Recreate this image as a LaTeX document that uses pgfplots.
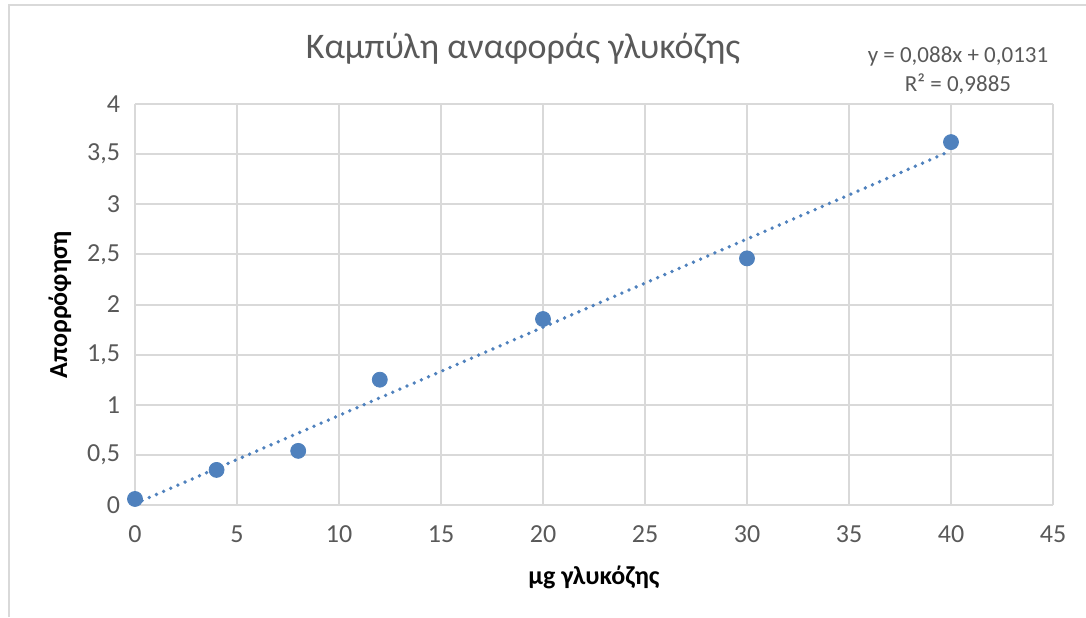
\documentclass[border=0pt]{standalone}
\usepackage{fontspec}
\setmainfont{Carlito}
\usepackage{pgfplots}
\pgfplotsset{compat=1.18}

\definecolor{xlblue}{RGB}{79,129,189}
\definecolor{xlgrid}{RGB}{217,217,217}
\definecolor{xltext}{RGB}{89,89,89}

\begin{document}
\begin{tikzpicture}
\path[use as bounding box] (-67.5pt,-56pt) rectangle (475.5pt,252.5pt);
% chart area frame (only left and top edges are visible in the reference)
\draw[xlgrid, line width=0.8pt] (-63pt,-56pt) -- (-63pt,250pt) -- (475.5pt,250pt);

\begin{axis}[
  at={(0,0)}, anchor=south west,
  scale only axis,
  width=459pt, height=200.5pt,
  xmin=0, xmax=45, ymin=0, ymax=4,
  xtick={0,5,...,45},
  ytick={0,0.5,...,4},
  grid=major,
  grid style={xlgrid, line width=1pt},
  axis line style={xlgrid, line width=1pt},
  axis x line*=bottom, axis y line*=left,
  major tick length=0pt,
  tick label style={font=\fontsize{13}{15}\selectfont, text=xltext},
  xticklabel style={yshift=-7pt},
  yticklabel style={xshift=-4pt},
  /pgf/number format/use comma,
  /pgf/number format/assume math mode=true,
  clip=false,
]
% trendline y = 0,088x + 0,0131
\addplot[xlblue, line width=1.9pt, line cap=round, dash pattern=on 0pt off 3.9pt]
  coordinates {(0,0.0131) (40,3.5331)};
% measurements
\addplot[only marks, mark=*, mark size=3.75pt, mark options={fill=xlblue, draw=xlblue}]
  coordinates {
    (0,0.06) (4,0.35) (8,0.54) (12,1.25) (20,1.855) (30,2.46) (40,3.62)
  };
\end{axis}

\node[text=xltext, font=\fontsize{18}{21}\selectfont] at (194pt,228pt) {Καμπύλη αναφοράς γλυκόζης};
\node[text=xltext, font=\fontsize{11.5}{13}\selectfont] at (411.5pt,224.5pt) {y = 0,088x + 0,0131};
\node[text=xltext, font=\fontsize{11.5}{13}\selectfont] at (411.5pt,210.5pt) {R² = 0,9885};
\node[font=\bfseries\fontsize{13}{15}\selectfont] at (229.5pt,-36pt) {μg γλυκόζης};
\node[font=\bfseries\fontsize{13}{15}\selectfont, rotate=90] at (-37.5pt,100pt) {Απορρόφηση};
\end{tikzpicture}
\end{document}
